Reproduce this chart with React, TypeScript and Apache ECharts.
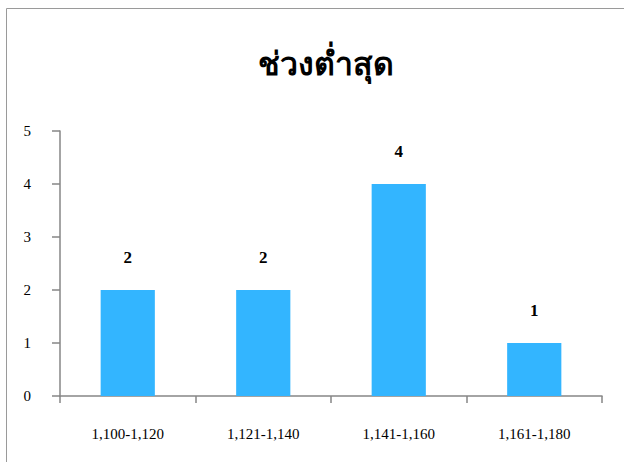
import React, { useEffect, useRef } from "react";
import * as echarts from "echarts";

const categories = ["1,100-1,120", "1,121-1,140", "1,141-1,160", "1,161-1,180"];
const counts = [2, 2, 4, 1];
const titleText = "ช่วงต่ำสุด";

export default function App() {
  const ref = useRef<HTMLDivElement>(null);
  useEffect(() => {
    if (!ref.current) return;
    const chart = echarts.init(ref.current, null, { renderer: "svg" });
    const serif = "Liberation Serif, Times New Roman, DejaVu Serif, serif";
    chart.setOption({
      animation: false,
      backgroundColor: "#ffffff",
      title: {
        text: titleText,
        left: 253,
        top: 43,
        textStyle: { fontFamily: serif, fontSize: 32, fontWeight: "bold", color: "#000" },
      },
      graphic: [
        {
          type: "rect",
          shape: { x: 6.5, y: 8.5, width: 700, height: 600 },
          style: { fill: "none", stroke: "#9a9a9a", lineWidth: 1 },
          silent: true,
        },
      ],
      grid: { left: 60, right: 22, top: 131, bottom: 66 },
      xAxis: {
        type: "category",
        data: categories,
        axisLine: { lineStyle: { color: "#868686", width: 1.5 } },
        axisTick: { show: true, alignWithLabel: false, length: 7, lineStyle: { color: "#868686", width: 1.5 } },
        axisLabel: { fontFamily: serif, fontSize: 15, color: "#000", margin: 30 },
        splitLine: { show: false },
      },
      yAxis: {
        type: "value",
        min: 0,
        max: 5,
        interval: 1,
        axisLine: { show: true, lineStyle: { color: "#868686", width: 1.5 } },
        axisTick: { show: true, length: 8, lineStyle: { color: "#868686", width: 1.5 } },
        axisLabel: { fontFamily: serif, fontSize: 15, color: "#000", margin: 29 },
        splitLine: { show: false },
      },
      series: [
        {
          type: "bar",
          data: counts,
          barWidth: "40%",
          itemStyle: { color: "#33B5FF" },
          label: {
            show: true,
            position: "top",
            distance: 24,
            fontFamily: serif,
            fontSize: 17,
            fontWeight: "bold",
            color: "#000",
          },
        },
      ],
    });
    return () => chart.dispose();
  }, []);
  return <div ref={ref} style={{ position: "fixed", left: 0, top: 0, width: 624, height: 462 }} />;
}
